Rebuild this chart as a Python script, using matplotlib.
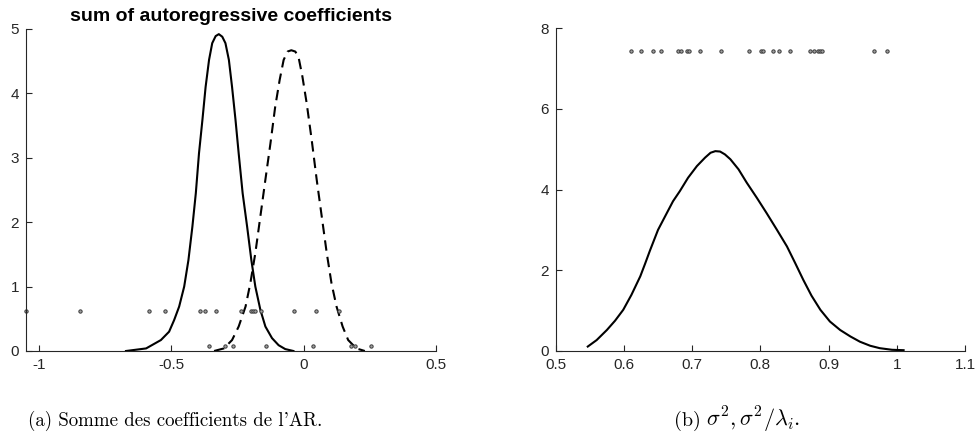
import matplotlib
matplotlib.use('Agg')
import matplotlib.pyplot as plt

plt.rcParams['font.family'] = ['Liberation Sans', 'DejaVu Sans']
plt.rcParams['axes.unicode_minus'] = False
plt.rcParams['mathtext.fontset'] = 'cm'

# panel (a): densities
sol_x = [-0.672, -0.596, -0.540, -0.509, -0.490, -0.471, -0.452, -0.436, -0.421,
         -0.408, -0.396, -0.383, -0.371, -0.358, -0.346, -0.333, -0.321, -0.308,
         -0.296, -0.283, -0.271, -0.258, -0.246, -0.231, -0.214, -0.198, -0.183,
         -0.164, -0.145, -0.120, -0.095, -0.070, -0.039]
sol_y = [0.0, 0.04, 0.17, 0.30, 0.48, 0.69, 1.00, 1.41, 1.93,
         2.45, 3.07, 3.59, 4.10, 4.52, 4.78, 4.89, 4.92, 4.88,
         4.78, 4.52, 4.10, 3.59, 3.07, 2.45, 1.93, 1.41, 1.00,
         0.64, 0.38, 0.20, 0.09, 0.03, 0.0]
dash_x = [-0.339, -0.302, -0.271, -0.246, -0.220, -0.202, -0.183, -0.164, -0.145,
          -0.126, -0.108, -0.091, -0.076, -0.061, -0.047, -0.032, -0.020, -0.005,
          0.011, 0.030, 0.049, 0.068, 0.087, 0.105, 0.124, 0.147, 0.168, 0.199, 0.231]
dash_y = [0.0, 0.04, 0.17, 0.38, 0.69, 1.05, 1.52, 2.09, 2.66,
          3.22, 3.79, 4.21, 4.52, 4.65, 4.67, 4.65, 4.57, 4.26,
          3.85, 3.28, 2.66, 2.09, 1.52, 1.05, 0.69, 0.38, 0.17, 0.04, 0.0]
pts_hi = [-1.05, -0.846, -0.584, -0.523, -0.393, -0.372, -0.333, -0.238,
          -0.199, -0.192, -0.185, -0.163, -0.036, 0.045, 0.133]
pts_lo = [-0.357, -0.296, -0.268, -0.144, 0.034, 0.178, 0.193, 0.253]
hi_level = 0.62
lo_level = 0.08

# panel (b)
var_x = [0.547, 0.560, 0.575, 0.587, 0.599, 0.611, 0.624, 0.631, 0.638, 0.650,
         0.663, 0.672, 0.682, 0.694, 0.707, 0.719, 0.727, 0.734, 0.741, 0.748,
         0.756, 0.768, 0.780, 0.795, 0.809, 0.824, 0.839, 0.851, 0.863, 0.875,
         0.888, 0.902, 0.917, 0.932, 0.946, 0.961, 0.975, 0.993, 1.010]
var_y = [0.11, 0.27, 0.52, 0.75, 1.02, 1.39, 1.85, 2.16, 2.48, 3.00,
         3.42, 3.71, 3.96, 4.29, 4.58, 4.79, 4.91, 4.95, 4.94, 4.87,
         4.75, 4.50, 4.17, 3.79, 3.42, 3.01, 2.59, 2.18, 1.76, 1.37,
         1.02, 0.73, 0.52, 0.36, 0.23, 0.13, 0.07, 0.03, 0.02]
var_pts = [0.611, 0.625, 0.642, 0.654, 0.680, 0.683, 0.692, 0.695, 0.712, 0.743,
           0.784, 0.801, 0.804, 0.818, 0.827, 0.844, 0.873, 0.879, 0.884, 0.888,
           0.891, 0.966, 0.985]
var_level = 7.44

grey = '#262626'
fig = plt.figure(figsize=(9.77, 4.43), dpi=100)
ax1 = fig.add_axes([26/977, 92/443, 410/977, 322/443])
ax2 = fig.add_axes([555.7/977, 92/443, 409.3/977, 323/443])


def style(ax):
    for s in ['top', 'right']:
        ax.spines[s].set_visible(False)
    for s in ['left', 'bottom']:
        ax.spines[s].set_color(grey)
        ax.spines[s].set_linewidth(0.8)
    ax.tick_params(direction='in', length=4, width=0.8, colors=grey,
                   labelsize=11, pad=5)


dot = dict(ls='none', marker='o', ms=2.4, mfc='#a0a0a0', mec='#3a3a3a',
           mew=0.7, clip_on=False)

ax1.plot(sol_x, sol_y, color='black', lw=1.5)
ax1.plot(dash_x, dash_y, color='black', lw=1.5, ls=(0, (5, 3)))
ax1.plot(pts_hi, [hi_level] * len(pts_hi), **dot)
ax1.plot(pts_lo, [lo_level] * len(pts_lo), **dot)
ax1.set_xlim(-1.05, 0.5)
ax1.set_ylim(0, 5)
ax1.set_xticks([-1, -0.5, 0, 0.5])
ax1.set_xticklabels(['-1', '-0.5', '0', '0.5'])
ax1.set_yticks(range(6))
ax1.set_title('sum of autoregressive coefficients', fontsize=14,
              fontweight='bold', pad=6)
style(ax1)

ax2.plot(var_x, var_y, color='black', lw=1.5)
ax2.plot(var_pts, [var_level] * len(var_pts), **dot)
ax2.set_xlim(0.5, 1.1)
ax2.set_ylim(0, 8)
ax2.set_xticks([0.5, 0.6, 0.7, 0.8, 0.9, 1.0, 1.1])
ax2.set_xticklabels(['0.5', '0.6', '0.7', '0.8', '0.9', '1', '1.1'])
ax2.set_yticks([0, 2, 4, 6, 8])
style(ax2)

# captions
fig.text(175/977, 1 - 421/443, "(a) Somme des coefficients de l'AR.",
         ha='center', va='center', fontsize=13.6, family=['cmr10', 'DejaVu Serif'])
fig.text(674/977, 1 - 421/443, '(b)',
         ha='left', va='center', fontsize=14.5, family='cmr10')
fig.text(706/977, 1 - 420/443, r'$\sigma^2, \sigma^2/\lambda_i.$',
         ha='left', va='center', fontsize=16)

fig.savefig('out.png', dpi=100)
